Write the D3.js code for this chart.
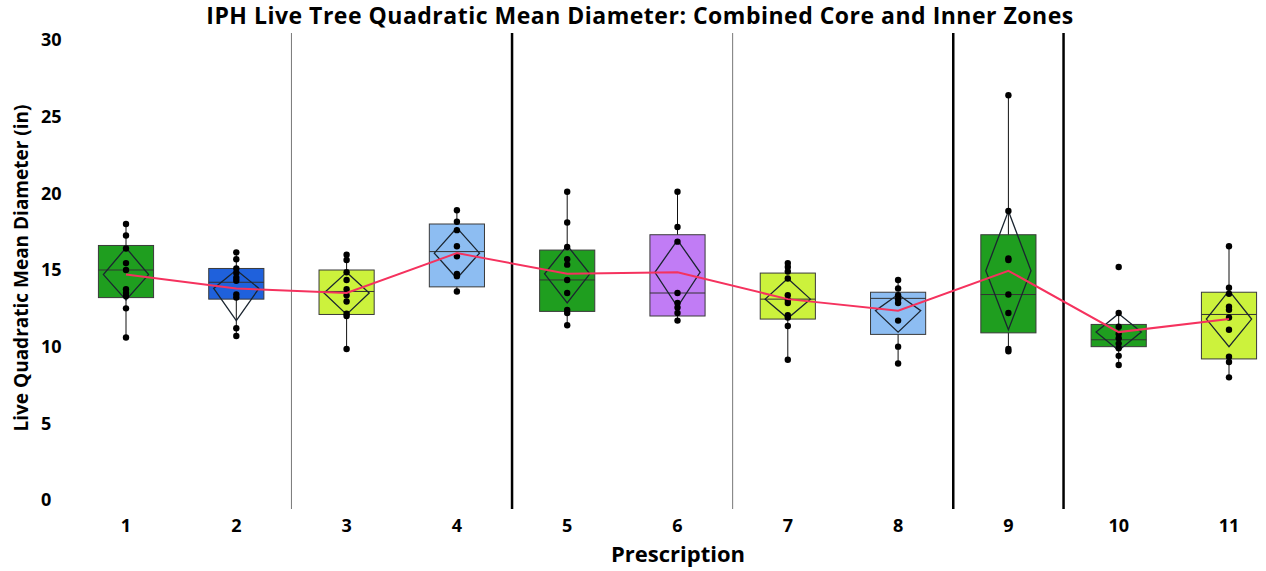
<!DOCTYPE html>
<html><head><meta charset="utf-8">
<script src="https://cdn.jsdelivr.net/npm/d3@7"></script>
<style>body{margin:0;background:#fff}svg{display:block}text{font-family:"Open Sans",sans-serif;font-weight:700;fill:#000}</style>
</head><body><svg id="c" width="1266" height="571"></svg>
<script>
const categories = ["1","2","3","4","5","6","7","8","9","10","11"];
const yTicks = [0,5,10,15,20,25,30];
const q1 =      [13.2, 13.1, 12.1, 13.9, 12.3, 12.0, 11.8, 10.8, 10.9, 10.0, 9.2];
const median =  [15.0, 14.2, 13.6, 16.2, 14.35,13.5, 13.1, 13.15,13.4, 10.45,12.1];
const q3 =      [16.6, 15.1, 15.0, 18.0, 16.3, 17.3, 14.8, 13.55,17.3, 11.45,13.55];
const whiskLo = [10.6, 10.7, 9.85, 13.6, 11.4, 11.7, 9.15, 8.9, 9.7, 8.8, 8.0];
const whiskHi = [18.0, 16.15,16.0, 18.9, 20.1, 20.1, 15.45,14.35,26.4, 12.2, 16.55];
const means =   [14.7, 13.8, 13.5, 16.1, 14.75,14.85,13.1, 12.35,14.95,10.95,11.8];
const ciLo =    [13.05,11.7, 12.1, 14.45,12.85,12.6, 11.85,10.95,11.1, 9.75, 10.0];
const ciHi =    [16.45,15.0, 14.85,17.75,16.6, 16.95,14.45,13.4, 18.85,12.15,13.65];
const points = [
  [18.0,17.25,16.4,15.45,15.0,13.75,13.5,13.3,12.5,10.6],
  [16.15,15.7,15.1,14.8,14.5,14.3,13.4,13.2,11.2,10.7],
  [16.0,15.65,14.85,14.35,13.75,13.35,12.95,12.15,12.0,9.85],
  [18.9,18.15,17.6,16.55,15.9,14.75,14.6,13.6],
  [20.1,18.1,16.5,15.7,15.35,14.35,13.5,12.4,12.2,11.4],
  [20.1,17.8,16.85,13.5,12.85,12.55,12.2,11.7],
  [15.45,15.2,14.9,14.45,13.35,13.05,12.85,12.05,11.9,11.35,9.15],
  [14.35,13.8,13.35,13.1,12.85,11.7,10.0,8.9],
  [26.4,18.85,15.75,15.65,13.4,12.2,9.85,9.7],
  [15.2,12.2,11.3,10.85,10.55,10.2,9.9,9.4,8.8],
  [16.55,13.85,13.45,12.6,12.4,11.9,11.1,9.35,9.0,8.0]
];
const boxColors = ["#1f9e1f","#1f61dc","#ccf23c","#8dbdf2","#1f9e1f","#c17cf5","#ccf23c","#8dbdf2","#1f9e1f","#1f9e1f","#ccf23c"];
const thinSeps = [2.5, 6.5];
const thickSeps = [4.5, 8.5, 9.5];

const svg = d3.select("#c");
const x = d3.scaleLinear().domain([1, 11]).range([126, 1229]);
const y = d3.scaleLinear().domain([0, 30]).range([500, 40]);
const step = x(2) - x(1);
const bw = step * 0.5, dw = step * 0.41;

// title
svg.append("text").attr("x", 640).attr("y", 24).attr("text-anchor", "middle")
  .style("font-size", "23px").style("letter-spacing", "0.5px")
  .text("IPH Live Tree Quadratic Mean Diameter: Combined Core and Inner Zones");
// y tick labels
svg.selectAll(".yt").data(yTicks).join("text").attr("class","yt")
  .attr("x", 41).attr("y", d => y(d)).attr("dy", "0.36em").style("font-size", "18px").text(d => d);
svg.append("text").attr("transform", "translate(28,268) rotate(-90)").attr("text-anchor","middle")
  .style("font-size", "19px").text("Live Quadratic Mean Diameter (in)");
// x tick labels
svg.selectAll(".xt").data(categories).join("text").attr("class","xt")
  .attr("x", (d,i) => x(i+1)).attr("y", 526).attr("dy", "0.36em").attr("text-anchor","middle")
  .style("font-size", "18px").text(d => d);
svg.append("text").attr("x", 678).attr("y", 562).attr("text-anchor","middle")
  .style("font-size", "22px").text("Prescription");

// separators
svg.selectAll(".ts").data(thinSeps).join("line").attr("x1", d => x(d)).attr("x2", d => x(d))
  .attr("y1", 33).attr("y2", 509).attr("stroke", "#777").attr("stroke-width", 1);
svg.selectAll(".tk").data(thickSeps).join("line").attr("x1", d => x(d)).attr("x2", d => x(d))
  .attr("y1", 33).attr("y2", 509).attr("stroke", "#000").attr("stroke-width", 2.5);

const g = svg.selectAll(".grp").data(categories).join("g").attr("class","grp");
// whiskers
g.append("line").attr("x1", (d,i) => x(i+1)).attr("x2", (d,i) => x(i+1))
  .attr("y1", (d,i) => y(whiskLo[i])).attr("y2", (d,i) => y(whiskHi[i])).attr("stroke", "#111").attr("stroke-width", 1);
// boxes
g.append("rect").attr("x", (d,i) => x(i+1) - bw/2).attr("width", bw)
  .attr("y", (d,i) => y(q3[i])).attr("height", (d,i) => y(q1[i]) - y(q3[i]))
  .attr("fill", (d,i) => boxColors[i]).attr("stroke", "#3a3a3a").attr("stroke-width", 1);
// median
g.append("line").attr("x1", (d,i) => x(i+1) - bw/2).attr("x2", (d,i) => x(i+1) + bw/2)
  .attr("y1", (d,i) => y(median[i])).attr("y2", (d,i) => y(median[i])).attr("stroke", "#333").attr("stroke-width", 1);
// diamonds
g.append("path").attr("d", (d,i) => {
  const cx = x(i+1);
  return `M${cx},${y(ciHi[i])}L${cx+dw/2},${y(means[i])}L${cx},${y(ciLo[i])}L${cx-dw/2},${y(means[i])}Z`;
}).attr("fill", "none").attr("stroke", "#1b2530").attr("stroke-width", 1.3);
// mean line
svg.append("path").datum(means).attr("d", d3.line().x((d,i) => x(i+1)).y(d => y(d)))
  .attr("fill", "none").attr("stroke", "#f5325e").attr("stroke-width", 2);
// points
g.each(function(d,i){
  d3.select(this).selectAll("circle").data(points[i]).join("circle")
    .attr("cx", x(i+1)).attr("cy", v => y(v)).attr("r", 3.2).attr("fill", "#000");
});
</script></body></html>
